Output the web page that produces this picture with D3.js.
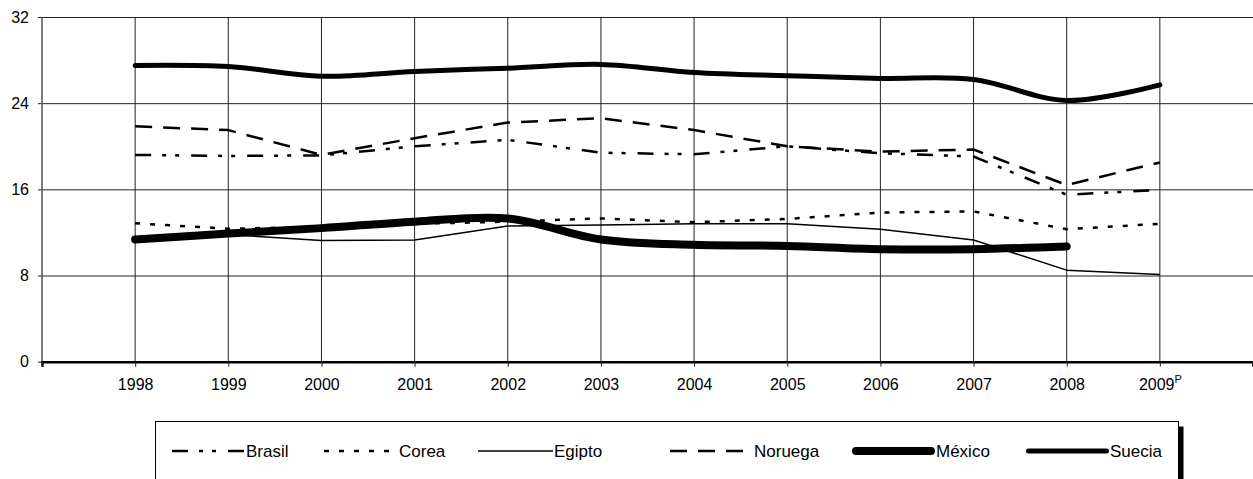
<!DOCTYPE html>
<html>
<head>
<meta charset="utf-8">
<script src="https://cdn.jsdelivr.net/npm/d3@7"></script>
<style>
    body { margin: 0; background: #fff; }
    svg { display: block; font-family: "Liberation Sans", Arial, sans-serif; }
</style>
</head>
<body>
<svg id="chart" width="1253" height="479"></svg>
<script>
// values
const years = [1998, 1999, 2000, 2001, 2002, 2003, 2004, 2005, 2006, 2007, 2008, 2009]
const yTicks = [0, 8, 16, 24, 32]
const names = ["Brasil", "Corea", "Egipto", "Noruega", "México", "Suecia"]
const brasil = [19.2, 19.1, 19.15, 20.0, 20.6, 19.4, 19.25, 20.0, 19.35, 19.05, 15.5, 15.95]
const corea = [12.85, 12.35, 12.5, 12.8, 13.0, 13.3, 12.95, 13.25, 13.85, 13.95, 12.3, 12.8]
const egipto = [11.5, 11.8, 11.25, 11.3, 12.6, 12.7, 12.8, 12.8, 12.3, 11.3, 8.5, 8.1]
const noruega = [21.85, 21.5, 19.2, 20.75, 22.2, 22.6, 21.5, 20.0, 19.5, 19.7, 16.4, 18.5]
const mexico = [11.35, 11.9, 12.4, 13.0, 13.3, 11.35, 10.85, 10.75, 10.45, 10.45, 10.7, null]
const suecia = [27.5, 27.4, 26.5, 26.95, 27.25, 27.6, 26.85, 26.55, 26.3, 26.2, 24.25, 25.7]

const ctx = {
    left: 42, right: 1253, top: 17, bottom: 361.7,
    font: 16,
    legend_font: 17,
    legend_y: 451,
    // where each legend sample starts
    legend_x: [172, 324, 478, 670, 852, 1026]
}

/* line styles, same order as names */
const styles = [
    { width: 2.5, dash: "16,11,4,9,4,12", cap: "butt", curve: d3.curveLinear, len: 73 },
    { width: 2.5, dash: "5,10", cap: "butt", curve: d3.curveLinear, len: 74 },
    { width: 1.5, dash: null, cap: "butt", curve: d3.curveLinear, len: 75 },
    { width: 2.5, dash: "17,11", cap: "butt", curve: d3.curveLinear, len: 83 },
    { width: 8, dash: null, cap: "round", curve: d3.curveCatmullRom, len: 83 },
    { width: 5, dash: null, cap: "round", curve: d3.curveCatmullRom, len: 83 }
]
const series = [brasil, corea, egipto, noruega, mexico, suecia]
    .map((values, i) => ({ name: names[i], style: styles[i], values }))

let svg = d3.select("#chart")

let x = d3.scaleLinear()
    .domain([years[0] - 1, years[years.length - 1] + 1])
    .range([ctx.left, ctx.right])

let y = d3.scaleLinear()
    .domain([0, 32])
    .range([ctx.bottom, ctx.top])

/* horizontal grid + y labels */
let yAxis = svg.append("g")
    .attr("transform", `translate(${ctx.left},0)`)
    .call(d3.axisLeft(y)
        .tickValues(yTicks)
        .tickSize(-(ctx.right - ctx.left))
        .tickPadding(13))
yAxis.select(".domain").remove()
yAxis.selectAll(".tick line")
    .attr("x1", -4)
    .attr("stroke", "#222")
    .attr("stroke-width", 1)
yAxis.selectAll("text")
    .attr("font-size", ctx.font)
    .attr("fill", "#000")
    .attr("font-family", "Liberation Sans, Arial, sans-serif")

/* vertical grid */
svg.append("g").selectAll("line")
    .data(years)
    .join("line")
    .attr("x1", d => x(d)).attr("x2", d => x(d))
    .attr("y1", y(32)).attr("y2", y(0))
    .attr("stroke", "#222")
    .attr("stroke-width", 1)

/* left axis */
svg.append("line")
    .attr("x1", ctx.left).attr("x2", ctx.left)
    .attr("y1", y(32)).attr("y2", y(0))
    .attr("stroke", "#555")
    .attr("stroke-width", 1.5)

/* x axis */
let xAxis = svg.append("g")
    .attr("transform", `translate(0,${y(0)})`)
    .call(d3.axisBottom(x)
        .tickValues([years[0] - 1].concat(years))
        .tickSize(5)
        .tickPadding(12)
        .tickFormat(d => d < years[0] ? "" : d))
xAxis.select(".domain")
    .attr("stroke", "#000")
    .attr("stroke-width", 2.5)
xAxis.selectAll(".tick line")
    .attr("stroke", "#222")
xAxis.selectAll("text")
    .attr("font-size", ctx.font)
    .attr("fill", "#000")
    .attr("font-family", "Liberation Sans, Arial, sans-serif")

// superscript P on the last year
xAxis.selectAll(".tick text")
    .filter(d => d === years[years.length - 1])
    .append("tspan")
    .attr("dy", "-0.65em")
    .attr("font-size", 11)
    .text("P")

/* series lines */
let lineG = svg.append("g").attr("id", "lines")
series.forEach(s => {
    let line = d3.line()
        .defined(d => d != null)
        .x((d, i) => x(years[i]))
        .y(d => y(d))
        .curve(s.style.curve)
    lineG.append("path")
        .datum(s.values)
        .attr("d", line)
        .attr("fill", "none")
        .attr("stroke", "#000")
        .attr("stroke-width", s.style.width)
        .attr("stroke-dasharray", s.style.dash)
        .attr("stroke-linecap", s.style.cap)
        .attr("stroke-linejoin", "round")
})

/* legend */
let legendG = svg.append("g").attr("id", "legend")
legendG.append("rect")
    .attr("x", 1178.5).attr("y", 426.5)
    .attr("width", 5).attr("height", 100)
    .attr("fill", "#000")
legendG.append("rect")
    .attr("x", 155.5).attr("y", 421.5)
    .attr("width", 1023).attr("height", 100)
    .attr("fill", "#fff")
    .attr("stroke", "#000")
    .attr("stroke-width", 1)

series.forEach((s, i) => {
    let cap = s.style.cap === "round" ? s.style.width / 2 : 0
    let x1 = ctx.legend_x[i] + cap
    let x2 = ctx.legend_x[i] + s.style.len - cap
    legendG.append("line")
        .attr("x1", x1).attr("x2", x2)
        .attr("y1", ctx.legend_y).attr("y2", ctx.legend_y)
        .attr("stroke", "#000")
        .attr("stroke-width", s.style.width)
        .attr("stroke-dasharray", s.style.dash)
        .attr("stroke-linecap", s.style.cap)
    legendG.append("text")
        .attr("x", ctx.legend_x[i] + s.style.len + 1)
        .attr("y", ctx.legend_y)
        .attr("dy", "0.35em")
        .attr("font-size", ctx.legend_font)
        .text(s.name)
})
</script>
</body>
</html>
